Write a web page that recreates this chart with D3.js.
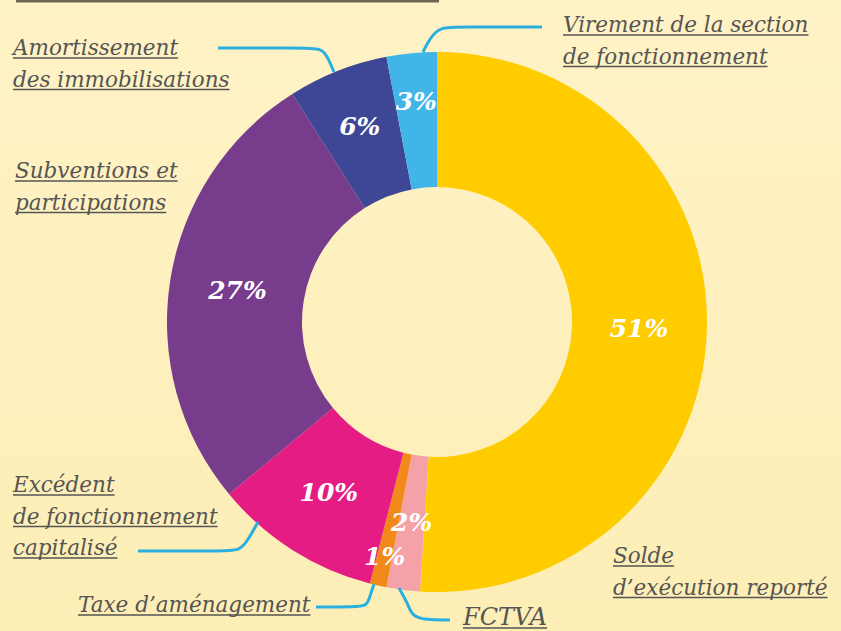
<!DOCTYPE html>
<html><head><meta charset="utf-8">
<script src="https://cdn.jsdelivr.net/npm/d3@7"></script>
<style>html,body{margin:0;padding:0;background:#FEF0C0;overflow:hidden}</style>
</head><body>
<svg id="c" width="841" height="631"></svg>
<script>
const categories = ["Solde d'exécution reporté","FCTVA","Taxe d'aménagement","Excédent de fonctionnement capitalisé","Subventions et participations","Amortissement des immobilisations","Virement de la section de fonctionnement"];
const values = [51, 2, 1, 10, 27, 6, 3];
const percentLabels = ["51%","2%","1%","10%","27%","6%","3%"];
const colors = ["#FFCC00","#F4A2A7","#F28A1B","#E51C83","#773D8C","#3E4796","#41B5E8"];
const labelLines = [["Solde","d’exécution reporté"],["FCTVA"],["Taxe d’aménagement"],["Excédent","de fonctionnement","capitalisé"],["Subventions et","participations"],["Amortissement","des immobilisations"],["Virement de la section","de fonctionnement"]];

const svg = d3.select("#c");
const defs = svg.append("defs");
const g0 = defs.append("linearGradient").attr("id","bg").attr("x1",0).attr("y1",0).attr("x2",0).attr("y2",1);
g0.append("stop").attr("offset","0").attr("stop-color","#FFF2C6");
g0.append("stop").attr("offset","1").attr("stop-color","#FDEEB6");
svg.append("rect").attr("width",841).attr("height",631).attr("fill","url(#bg)");
svg.append("line").attr("x1",16).attr("x2",439).attr("y1",1).attr("y2",1).attr("stroke","#6B6656").attr("stroke-width",3);

const cx = 437, cy = 322, R = 270, r = 135;
const pie = d3.pie().sort(null).value(d=>d);
const arcs = pie(values);
const arc = d3.arc().innerRadius(r).outerRadius(R);
const g = svg.append("g").attr("transform",`translate(${cx},${cy})`);
g.selectAll("path").data(arcs).join("path").attr("d",arc).attr("fill",(d,i)=>colors[i]);

const font = "'DejaVu Serif', serif";
const labelR = [202,202,240,202,202,210,221];
g.selectAll("text.pct").data(arcs).join("text").attr("class","pct")
  .attr("x",(d,i)=>labelR[i]*Math.sin((d.startAngle+d.endAngle)/2))
  .attr("y",(d,i)=>-labelR[i]*Math.cos((d.startAngle+d.endAngle)/2))
  .attr("text-anchor","middle").attr("dominant-baseline","central")
  .attr("fill","#fff").attr("font-family",font).attr("font-style","italic").attr("font-weight","bold").attr("font-size",25)
  .text((d,i)=>percentLabels[i]);

// leader lines
const lead = d3.line().curve(d3.curveBasis);
const leaders = [
  null,
  [[399,588],[408,604],[412,616],[425,620],[450,620]],
  [[374,584],[370,596],[367,606],[355,607],[316,607]],
  [[258,522],[248,540],[240,551],[220,551],[138,551]],
  null,
  [[334,72],[328,58],[322,48],[300,48],[218,48]],
  [[423,52],[430,38],[440,27],[460,27],[542,27]]
];
leaders.forEach(p=>{ if(p) svg.append("path").attr("d",lead(p)).attr("fill","none").attr("stroke","#2AAFDF").attr("stroke-width",3); });

// category labels
const labelPos = [[613,563],[463,625],[78,612],[13,492],[15,178],[13,55],[563,32]];
const lh = 31.5;
labelLines.forEach((lines,i)=>{
  lines.forEach((t,j)=>{
    const x = labelPos[i][0], y = labelPos[i][1] + j*lh;
    const tx = svg.append("text").attr("x",x).attr("y",y).attr("fill","#555553")
      .attr("font-family",font).attr("font-style","italic").attr("font-size",i===1?24:21.5).text(t);
    const w = tx.node().getComputedTextLength();
    svg.append("line").attr("x1",x).attr("x2",x+w).attr("y1",y+3).attr("y2",y+3).attr("stroke","#555553").attr("stroke-width",1.6);
  });
});
</script>
</body></html>
